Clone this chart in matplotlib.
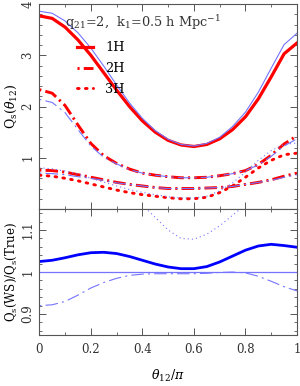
import matplotlib
matplotlib.use("Agg")
import matplotlib.pyplot as plt
import numpy as np

plt.rcParams["font.family"] = ["DejaVu Serif"]
plt.rcParams["mathtext.fontset"] = "dejavuserif"
plt.rcParams["lines.scale_dashes"] = False

# theta_12 / pi
theta = [0.0, 0.05, 0.1, 0.15, 0.2, 0.25, 0.3, 0.35, 0.4, 0.45, 0.5,
         0.55, 0.6, 0.65, 0.7, 0.75, 0.8, 0.85, 0.9, 0.95, 1.0]

# true Q (red)
q_1h = [3.77, 3.72, 3.55, 3.30, 3.00, 2.66, 2.32, 2.00, 1.72, 1.50, 1.34,
        1.25, 1.22, 1.26, 1.37, 1.55, 1.80, 2.15, 2.58, 3.03, 3.24]
q_2h = [2.33, 2.26, 2.02, 1.64, 1.28, 1.04, 0.89, 0.78, 0.70, 0.66, 0.63,
        0.61, 0.61, 0.62, 0.65, 0.69, 0.75, 0.87, 1.05, 1.27, 1.43]
q_2h_low = [0.76, 0.75, 0.72, 0.67, 0.62, 0.57, 0.52, 0.48, 0.45, 0.42, 0.40,
            0.40, 0.40, 0.41, 0.42, 0.44, 0.48, 0.52, 0.57, 0.64, 0.70]
q_3h = [0.66, 0.64, 0.60, 0.55, 0.49, 0.43, 0.37, 0.32, 0.28, 0.25, 0.22,
        0.20, 0.20, 0.23, 0.32, 0.45, 0.62, 0.80, 0.95, 1.06, 1.09]

# WS Q (thin blue)
ws_1h = [3.86, 3.82, 3.67, 3.44, 3.14, 2.79, 2.42, 2.07, 1.77, 1.53, 1.36,
         1.26, 1.23, 1.28, 1.40, 1.61, 1.89, 2.28, 2.75, 3.21, 3.43]
ws_2h = [2.14, 2.08, 1.88, 1.55, 1.23, 1.01, 0.88, 0.77, 0.70, 0.66, 0.63,
         0.61, 0.61, 0.62, 0.65, 0.69, 0.75, 0.86, 1.03, 1.23, 1.37]
ws_2h_low = [0.70, 0.69, 0.67, 0.63, 0.60, 0.56, 0.51, 0.48, 0.45, 0.42, 0.40,
             0.40, 0.40, 0.41, 0.42, 0.44, 0.48, 0.52, 0.56, 0.62, 0.67]
ws_3h = [0.805, 0.785, 0.74, 0.68, 0.60, 0.525, 0.45, 0.38, 0.325, 0.28, 0.24,
         0.216, 0.216, 0.25, 0.355, 0.51, 0.72, 0.95, 1.14, 1.26, 1.29]

# ratios Q(WS)/Q(True)
r_1h = [1.025, 1.028, 1.034, 1.041, 1.046, 1.047, 1.044, 1.037, 1.028, 1.019, 1.012,
        1.008, 1.008, 1.013, 1.024, 1.038, 1.052, 1.062, 1.066, 1.063, 1.059]
r_2h = [0.920, 0.922, 0.930, 0.945, 0.962, 0.975, 0.985, 0.992, 0.995, 0.996, 0.996,
        0.996, 0.996, 0.997, 0.999, 1.000, 0.998, 0.990, 0.978, 0.965, 0.955]
r_3h = [1.22, 1.23, 1.23, 1.23, 1.23, 1.22, 1.21, 1.18, 1.16, 1.13, 1.10,
        1.08, 1.078, 1.09, 1.11, 1.135, 1.16, 1.19, 1.20, 1.19, 1.18]

red = "#ff0000"
lblue = "#7474ff"
dashdot = (0, (1.5, 3, 9, 3))
dots = (0, (1.2, 4.5))
thin_dots = (0, (0.8, 2.2))

fig = plt.figure(figsize=(3.0, 3.86), dpi=100)
ax1 = fig.add_axes([0.131, 0.4585, 0.859, 0.531])
ax2 = fig.add_axes([0.131, 0.132, 0.859, 0.3265])

ax1.plot(theta, q_1h, color=red, lw=2.3, label="1H")
ax1.plot(theta, q_2h, color=red, lw=2.1, ls=dashdot, label="2H")
ax1.plot(theta, q_3h, color=red, lw=2.1, ls=dots, dash_capstyle="round", label="3H")
ax1.plot(theta, q_2h_low, color=red, lw=2.1, ls=dashdot)
ax1.plot(theta, ws_1h, color=lblue, lw=0.8)
ax1.plot(theta, ws_2h, color=lblue, lw=0.8, ls=dashdot)
ax1.plot(theta, ws_2h_low, color=lblue, lw=0.8, ls=dashdot)
ax1.plot(theta, ws_3h, color=lblue, lw=0.8, ls=thin_dots)

ax1.set_xlim(0, 1)
ax1.set_ylim(0, 4)
ax1.set_yticks([1, 2, 3, 4])
ax1.set_yticks(np.arange(0, 4.01, 0.2), minor=True)
ax1.set_xticks(np.arange(0, 1.01, 0.2))
ax1.set_xticks(np.arange(0, 1.01, 0.1), minor=True)
ax1.tick_params(labelbottom=False)
ax1.set_ylabel(r"Q$_{\rm s}$($\theta_{12}$)", fontsize=9, labelpad=2)
ax1.text(0.1, 0.89, r"q$_{21}$=2,  k$_1$=0.5 h Mpc$^{-1}$", transform=ax1.transAxes,
         fontsize=9.3, color="#333333")
ax1.legend(loc="upper left", bbox_to_anchor=(0.1, 0.875), frameon=False, fontsize=9.3,
           handlelength=1.3, handletextpad=0.9, labelspacing=0.6)

ax2.plot(theta, r_1h, color="#0000ff", lw=2.0)
ax2.axhline(1.0, color=lblue, lw=0.9)
ax2.plot(theta, r_2h, color=lblue, lw=0.8, ls=dashdot)
ax2.plot(theta, r_3h, color=lblue, lw=0.8, ls=thin_dots)
ax2.set_xlim(0, 1)
ax2.set_ylim(0.85, 1.15)
ax2.set_yticks([0.9, 1.0, 1.1])
ax2.set_yticklabels(["0.9", "1", "1.1"])
ax2.set_yticks(np.arange(0.86, 1.15, 0.02), minor=True)
ax2.set_xticks(np.arange(0, 1.01, 0.2))
ax2.set_xticklabels(["0", "0.2", "0.4", "0.6", "0.8", "1"])
ax2.set_xticks(np.arange(0, 1.01, 0.1), minor=True)
ax2.set_xlabel(r"$\theta_{12}/\pi$", fontsize=9, labelpad=8)
ax2.set_ylabel(r"Q$_{\rm s}$(WS)/Q$_{\rm s}$(True)", fontsize=8.5, labelpad=2)

for ax in (ax1, ax2):
    for s in ax.spines.values():
        s.set_color("#555555")
        s.set_linewidth(0.8)
    ax.tick_params(which="both", direction="in", top=True, right=True,
                   color="#555555", labelsize=8.5, labelcolor="#333333")
    ax.tick_params(which="major", length=5, width=0.7)
    ax.tick_params(which="minor", length=2.5, width=0.6)
    ax.tick_params(axis="x", pad=6)
    for lab in ax.get_yticklabels():
        lab.set_rotation(90)
        lab.set_va("center")

fig.savefig("out.png", dpi=100)
